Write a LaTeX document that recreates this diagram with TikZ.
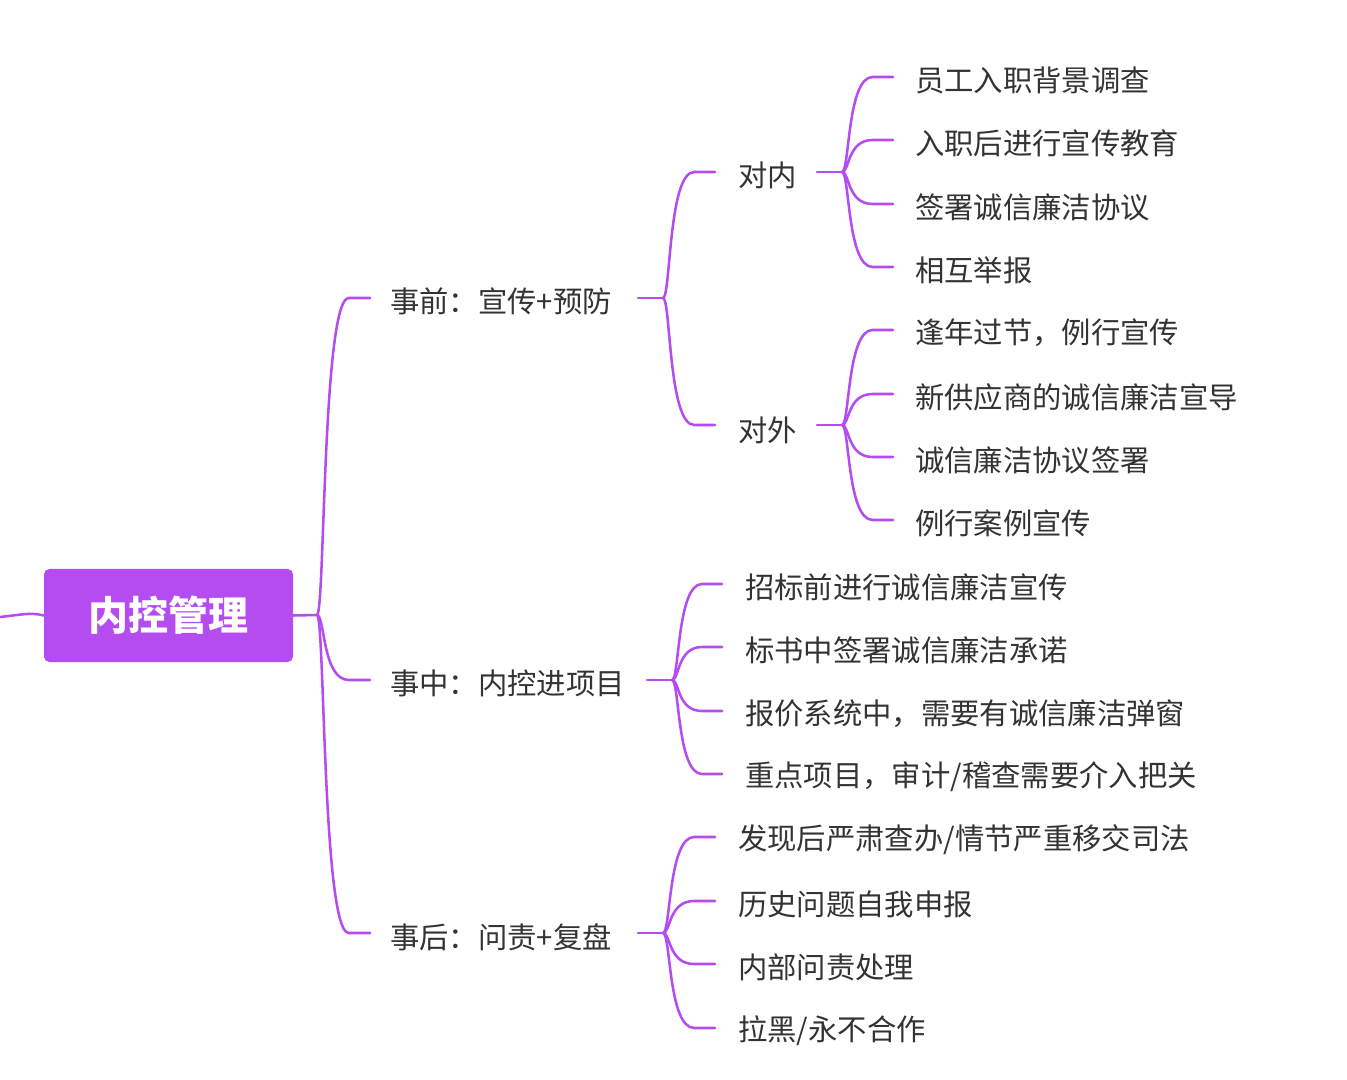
\documentclass[tikz,border=0pt]{standalone}
\usepackage{fontspec}
\setmainfont{Noto Sans CJK SC}
\definecolor{pur}{HTML}{B44CF0}
\definecolor{txt}{HTML}{333333}
\begin{document}
\begin{tikzpicture}[x=0.75pt,y=-0.75pt,
  lbl/.style={anchor=west,text=txt,font=\fontsize{22}{26}\selectfont,inner sep=0},
  ln/.style={draw=pur,line width=1.9pt,line cap=round}]
\useasboundingbox (0,0) rectangle (1347,1080);
\newcommand{\br}[4]{% xa y0 xc y1
  \pgfmathsetmacro{\w}{#3-#1}
  \draw[ln] (#1,#2) .. controls ({#1+0.15*\w},#2) and ({#1+0.1*\w},#4) .. ({#1+0.6*\w},#4) -- (#3,#4);}
\node[fill=pur,rounded corners=4pt,minimum width=249*0.75pt,minimum height=93*0.75pt,text=white,font=\fontsize{30}{34}\selectfont\bfseries,inner sep=0] (root) at (168.5,615.5) {内控管理};
\coordinate (in) at (0,617);
\draw[ln] (in) .. controls (20,615) and (30,612) .. (root.west);
\coordinate (r1) at (317,615);
\draw[ln] (root.east) -- (r1);
\br{317}{615}{370}{298}\br{317}{615}{370}{680}\br{317}{615}{370}{933}
\node[lbl] (a) at (390,301) {事前：宣传+预防};
\node[lbl] (b) at (390,683) {事中：内控进项目};
\node[lbl] (c) at (390,937) {事后：问责+复盘};
% a
\draw[ln] (638,298) -- (663,298);
\br{663}{298}{715}{172}\br{663}{298}{715}{425}
\node[lbl] (a1) at (738,175) {对内};
\node[lbl] (a2) at (738,430) {对外};
\draw[ln] (817,172) -- (842,172);
\foreach \y in {77,140,204,267}{\br{842}{172}{893}{\y}}
\node[lbl] at (915,80) {员工入职背景调查};
\node[lbl] at (915,143) {入职后进行宣传教育};
\node[lbl] at (915,207) {签署诚信廉洁协议};
\node[lbl] at (915,270) {相互举报};
\draw[ln] (817,425) -- (842,425);
\foreach \y in {330,394,457,520}{\br{842}{425}{893}{\y}}
\node[lbl] at (915,333) {逢年过节，例行宣传};
\node[lbl] at (915,397) {新供应商的诚信廉洁宣导};
\node[lbl] at (915,460) {诚信廉洁协议签署};
\node[lbl] at (915,523) {例行案例宣传};
% b
\draw[ln] (647,680) -- (672,680);
\foreach \y in {584,647,711,774}{\br{672}{680}{722}{\y}}
\node[lbl] at (745,587) {招标前进行诚信廉洁宣传};
\node[lbl] at (745,650) {标书中签署诚信廉洁承诺};
\node[lbl] at (745,714) {报价系统中，需要有诚信廉洁弹窗};
\node[lbl] at (745,777) {重点项目，审计/稽查需要介入把关};
% c
\draw[ln] (638,933) -- (663,933);
\foreach \y in {837,901,964,1028}{\br{663}{933}{715}{\y}}
\node[lbl] at (738,840) {发现后严肃查办/情节严重移交司法};
\node[lbl] at (738,904) {历史问题自我申报};
\node[lbl] at (738,967) {内部问责处理};
\node[lbl] at (738,1031) {拉黑/永不合作};
\end{tikzpicture}
\end{document}
